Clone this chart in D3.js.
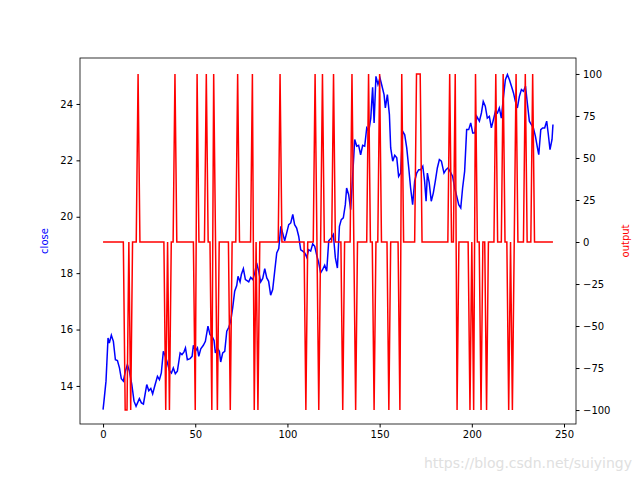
<!DOCTYPE html>
<html><head><meta charset="utf-8">
<script src="https://cdn.jsdelivr.net/npm/d3@7"></script>
<style>body{margin:0;background:#fff}text{font-family:"DejaVu Sans",sans-serif}</style>
</head><body><svg id="c" width="640" height="480"></svg>
<script>
const closeIdx=[0,0.5,1.6,2.7,3.4,4.5,5.6,6.7,7.8,8.9,9.9,11,12.1,13.2,14.3,15.6,16.8,17.9,19.7,20.8,21.9,23.7,24.8,25.9,26.9,28,29.5,30.6,31.6,32.7,33.8,34.9,36,37.1,38.1,39.2,40.3,41.8,42.8,43.9,44.7,45.7,47.2,48.3,49,50.1,51.2,51.9,53,54.4,55.5,56.9,58,59.1,60.2,60.9,62,63.1,63.8,64.9,66,67.1,68.2,69.2,70.3,71.4,72.5,73.2,74.3,75,76.1,77.2,77.9,79,80.1,81.2,82.3,83.3,84.4,85.5,86.6,87.7,88.8,89.8,90.9,92,93.1,94.2,95.3,96.4,97.4,98.5,99.6,100.7,101.8,102.9,103.9,105,106.1,107.2,108.3,109.4,110.5,111.5,112.6,113.7,114.8,115.9,117,118,119.1,120.2,121.3,122.4,123.8,124.9,126,127.1,128.2,129.2,130.3,131.4,132.1,133.2,134.3,135.4,136.5,137.6,138.6,139.7,140.8,141.9,143,144.1,145.2,146.2,147,148,149.1,150.2,151.3,152.4,153.1,154.2,155.3,156,157.1,158.2,159.3,160.3,161.4,162.5,163.6,164.7,165.8,166.8,167.9,169,170.1,171.2,172.3,173.4,174.4,175.2,175.9,176.9,178,179.1,180.2,181.3,182.4,183.5,184.9,186,187.1,188.2,189.6,190.7,191.8,192.9,194,195,196.1,197.2,198.3,199.4,200.5,201.6,202.7,204.1,205.2,206.2,207.3,208.4,209.5,210.6,211.7,212.8,213.9,214.9,216,217.1,218.2,219.3,220.4,221.5,222.6,223.6,224.7,225.8,226.9,228,229.1,230.2,231.2,232.3,233.4,234.5,235.6,236.3,237.4,238.4,239.5,240.6,241.4,242.4,243.5,244];
const closeVal=[13.16,13.46,14.17,15.70,15.52,15.80,15.58,14.93,14.90,14.64,14.26,14.17,14.52,14.76,14.52,14.05,13.46,13.28,13.55,13.40,13.36,14.05,13.83,13.91,13.72,13.99,14.34,14.22,14.46,15.23,15.05,14.82,14.54,14.46,14.64,14.43,14.52,15.17,15.11,15.21,15.35,14.93,14.97,15.05,15.44,15.23,15.35,15.05,15.32,15.44,15.58,16.12,15.82,15.76,15.61,15.17,15.35,15.23,14.85,15.17,15.23,15.94,16.08,16.29,16.77,17.36,17.56,17.89,17.69,17.95,18.16,17.77,17.74,17.69,17.85,17.77,18.01,18.36,18.07,17.69,17.81,18.16,17.83,17.71,17.22,17.42,18.07,18.72,18.87,19.66,19.43,19.15,19.43,19.72,19.78,20.08,19.72,19.60,19.31,18.83,18.78,18.72,18.56,18.83,18.78,19.04,18.95,18.63,18.36,18.01,18.13,18.28,18.07,19.15,19.25,19.37,18.54,18.18,19.66,19.90,19.96,20.43,21.02,20.78,20.25,21.49,22.74,22.50,22.53,22.20,22.53,22.50,23.15,23.03,23.50,24.59,23.33,24.98,24.69,24.92,24.63,24.33,23.86,24.33,23.62,22.44,21.97,22.18,22.09,21.43,21.55,23.03,22.91,22.44,21.73,21.02,20.43,21.26,21.55,21.67,21.67,21.79,21.26,20.55,21.55,21.20,20.55,20.84,21.26,21.73,22.03,21.97,21.55,21.67,21.73,21.61,21.43,21.02,20.73,20.43,20.31,21.02,21.61,23.09,23.09,23.33,22.97,22.97,23.56,23.39,23.68,24.09,23.92,23.50,23.56,23.15,23.44,23.74,23.68,23.86,23.50,24.21,24.86,25.04,24.86,24.63,24.39,24.09,23.86,24.27,24.51,24.45,24.63,23.98,23.39,23.27,23.15,22.85,22.44,22.20,23.09,23.15,23.15,23.39,22.97,22.38,22.74,23.27];
const buyIdx=[19,39,51,56,60,73,81,96,115,119,125,135,144,150,162,170,171,172,188,191,202,213,217,224,229,233];
const sellIdx=[12,13,15,34,36,50,59,62,69,82,84,110,117,130,137,147,155,161,192,199,201,205,208,220,222];
const nPts=245;
const xTicks=[0,50,100,150,200,250];
const yLTicks=[14,16,18,20,22,24];
const yRTicks=[-100,-75,-50,-25,0,25,50,75,100];

const output=d3.range(nPts).map(i=>buyIdx.includes(i)?100:(sellIdx.includes(i)?-100:0));
const L=80,R=576,T=58,B=424;
const svg=d3.select("#c");
const x=d3.scaleLinear().domain([-12.5,256.5]).range([L,R]);
const yL=d3.scaleLinear().domain([12.65,25.63]).range([B,T]);
const yR=d3.scaleLinear().domain([-108.3,109.5]).range([B,T]);
const close=closeIdx.map((d,i)=>[d,closeVal[i]]);
svg.append("path").datum(close).attr("fill","none").attr("stroke","#0000ff").attr("stroke-width",1.5)
 .attr("d",d3.line().x(d=>x(d[0])).y(d=>yL(d[1])));
svg.append("path").datum(output).attr("fill","none").attr("stroke","#ff0000").attr("stroke-width",1.5)
 .attr("d",d3.line().x((d,i)=>x(i)).y(d=>yR(d)));
svg.append("rect").attr("x",L).attr("y",T).attr("width",R-L).attr("height",B-T).attr("fill","none").attr("stroke","#000").attr("stroke-width",0.8);
const fmt=g=>{g.select(".domain").remove();g.selectAll("text").attr("font-size",10).attr("fill","#000");g.selectAll("line").attr("stroke","#000");};
svg.append("g").attr("transform",`translate(0,${B})`).call(d3.axisBottom(x).tickValues(xTicks).tickSize(3.5).tickPadding(3.5)).call(fmt);
svg.append("g").attr("transform",`translate(${L},0)`).call(d3.axisLeft(yL).tickValues(yLTicks).tickSize(3.5).tickPadding(3.5)).call(fmt);
svg.append("g").attr("transform",`translate(${R},0)`).call(d3.axisRight(yR).tickValues(yRTicks).tickSize(3.5).tickPadding(3.5)).call(fmt);
svg.append("text").attr("transform","translate(48,241) rotate(-90)").attr("text-anchor","middle").attr("font-size",10).attr("fill","#0000ff").text("close");
svg.append("text").attr("transform","translate(629,241) rotate(-90)").attr("text-anchor","middle").attr("font-size",10).attr("fill","#ff0000").text("output");
svg.append("text").attr("x",632).attr("y",468).attr("text-anchor","end").attr("font-size",14).attr("fill","#e0e0e0").text("https://blog.csdn.net/suiyingy");
</script></body></html>
